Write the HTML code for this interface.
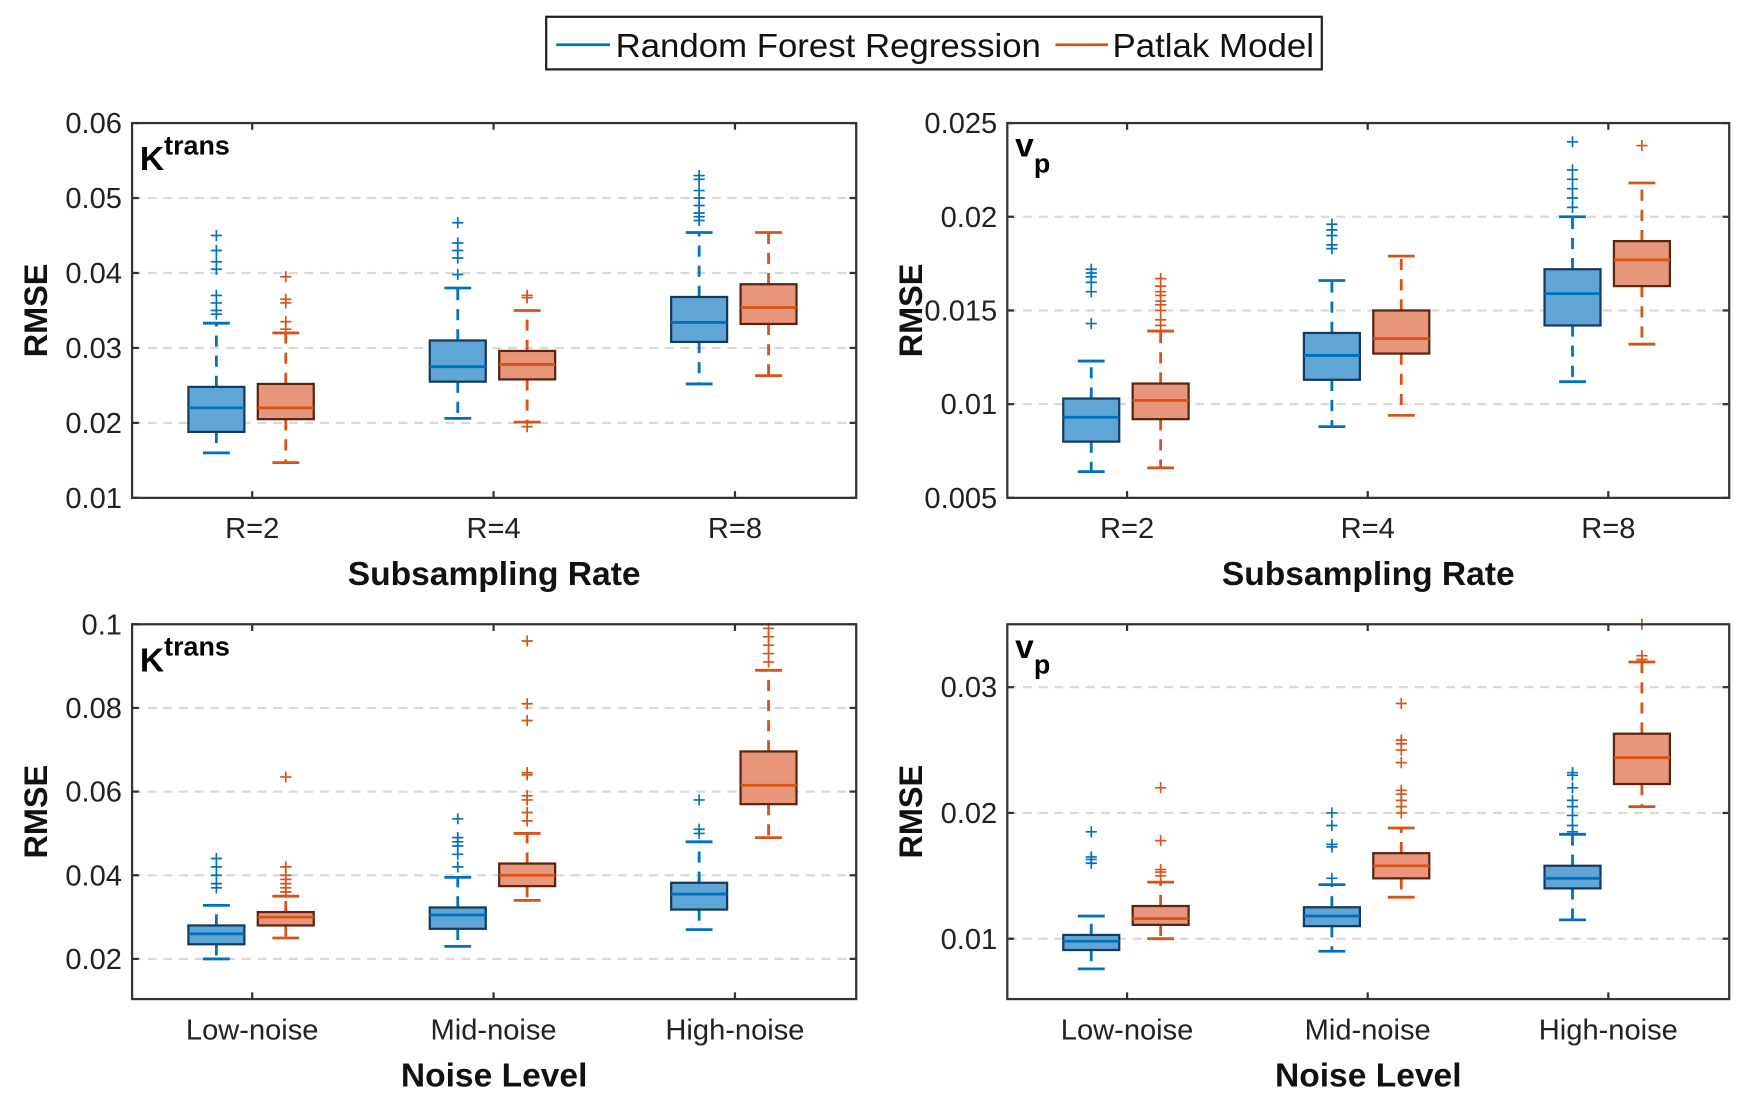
<!DOCTYPE html>
<html><head><meta charset="utf-8"><style>
html,body{margin:0;padding:0;background:#fff}
svg{display:block;font-family:"Liberation Sans",sans-serif}
</style></head><body>
<svg id="fig" xmlns="http://www.w3.org/2000/svg" width="1746" height="1102" viewBox="0 0 1560 985" preserveAspectRatio="none">
<g>
<rect x="488" y="15" width="693" height="47" fill="#fff" stroke="#222" stroke-width="2"/>
<line x1="497" y1="40" x2="545" y2="40" stroke="#0072BD" stroke-width="2.5"/>
<text x="550" y="51" font-size="30" textLength="380" lengthAdjust="spacingAndGlyphs" fill="#111">Random Forest Regression</text>
<line x1="943" y1="40" x2="990" y2="40" stroke="#D95319" stroke-width="2.5"/>
<text x="994" y="51" font-size="30" textLength="180" lengthAdjust="spacingAndGlyphs" fill="#111">Patlak Model</text>
</g>
</svg>
<script>
// ---- Data: [q1, median, q3, whiskerLow, whiskerHigh] ----
const catsSub = ["R=2","R=4","R=8"];
const catsNoise = ["Low-noise","Mid-noise","High-noise"];
const ktSubTicks = [0.01,0.02,0.03,0.04,0.05,0.06];
const vpSubTicks = [0.005,0.01,0.015,0.02,0.025];
const ktNoiseTicks = [0.02,0.04,0.06,0.08,0.1];
const vpNoiseTicks = [0.01,0.02,0.03];
const ktSubRF = [[0.0188,0.022,0.0248,0.016,0.0333],[0.0255,0.0275,0.031,0.0206,0.038],[0.0308,0.0334,0.0368,0.0252,0.0454]];
const ktSubPK = [[0.0205,0.022,0.0252,0.0147,0.032],[0.0258,0.0278,0.0296,0.0201,0.035],[0.0332,0.0354,0.0385,0.0263,0.0454]];
const ktSubRFOut = [[0.0345,0.035,0.036,0.037,0.0405,0.0415,0.043,0.045],[0.0398,0.042,0.043,0.044,0.0467],[0.047,0.0475,0.048,0.049,0.05,0.051,0.0525,0.053]];
const ktSubPKOut = [[0.0325,0.0335,0.036,0.0365,0.0395],[0.0195,0.0367,0.037],[]];
const vpSubRF = [[0.008,0.0093,0.0103,0.0064,0.0123],[0.0113,0.0126,0.0138,0.0088,0.0166],[0.0142,0.0159,0.0172,0.0112,0.02]];
const vpSubPK = [[0.0092,0.0102,0.0111,0.0066,0.0139],[0.0127,0.0135,0.015,0.0094,0.0179],[0.0163,0.0177,0.0187,0.0132,0.0218]];
const vpSubRFOut = [[0.0143,0.016,0.0165,0.0168,0.017,0.0172],[0.0183,0.0185,0.019,0.0193,0.0196],[0.0205,0.021,0.0215,0.022,0.0225,0.024]];
const vpSubPKOut = [[0.0142,0.0145,0.015,0.0153,0.0155,0.0158,0.016,0.0163,0.0167],[],[0.0238]];
const ktNoiseRF = [[0.0235,0.026,0.028,0.02,0.0328],[0.0272,0.0305,0.0323,0.023,0.0395],[0.0318,0.0355,0.0382,0.027,0.048]];
const ktNoisePK = [[0.028,0.030,0.0312,0.025,0.035],[0.0374,0.040,0.0428,0.034,0.050],[0.057,0.0615,0.0696,0.049,0.089]];
const ktNoiseRFOut = [[0.037,0.038,0.04,0.042,0.044],[0.042,0.045,0.047,0.048,0.049,0.0535],[0.05,0.051,0.058]];
const ktNoisePKOut = [[0.036,0.037,0.038,0.039,0.04,0.042,0.0635],[0.053,0.055,0.058,0.059,0.064,0.0645,0.077,0.081,0.096],[0.091,0.093,0.095,0.097,0.099]];
const vpNoiseRF = [[0.0091,0.0098,0.0103,0.0076,0.0118],[0.011,0.0118,0.0125,0.009,0.0143],[0.014,0.0148,0.0158,0.0115,0.0183]];
const vpNoisePK = [[0.0111,0.0116,0.0126,0.010,0.0145],[0.0148,0.0158,0.0168,0.0133,0.0188],[0.0223,0.0244,0.0263,0.0205,0.032]];
const vpNoiseRFOut = [[0.016,0.0163,0.0165,0.0185],[0.0148,0.0173,0.0175,0.019,0.02],[0.0185,0.019,0.0198,0.0205,0.021,0.022,0.023,0.0232]];
const vpNoisePKOut = [[0.015,0.0153,0.0155,0.0178,0.022],[0.02,0.0205,0.021,0.0215,0.0218,0.024,0.025,0.0255,0.0258,0.0287],[0.0322,0.0325,0.035]];

const NS="http://www.w3.org/2000/svg";
const svg=document.getElementById('fig');
function mk(tag,attrs,parent){const e=document.createElementNS(NS,tag);for(const k in attrs)e.setAttribute(k,attrs[k]);(parent||svg).appendChild(e);return e;}

function panel(o){
  const g=mk('g',{});
  
  
  const {x0,x1,y0,y1,ymin,ymax}=o;
  const Y=v=>y1-(v-ymin)/(ymax-ymin)*(y1-y0);
  const step=(x1-x0)/3;
  const X=i=>x0+step*(i+0.5)-0.5;
  o.ticks.forEach(t=>{
    const y=Y(t);
    if(Math.abs(y-y0)>2&&Math.abs(y-y1)>2){
      const gl=mk('line',{x1:x0,x2:x1,y1:y,y2:y,stroke:'#d9d9d9','stroke-width':2,'stroke-dasharray':'8,6'},g);
      
      
    }
    mk('line',{x1:x0,x2:x0+6,y1:y,y2:y,stroke:'#333','stroke-width':2},g);
    mk('line',{x1:x1-6,x2:x1,y1:y,y2:y,stroke:'#333','stroke-width':2},g);
    const tl=mk('text',{x:x0-9,y:y+9,'font-size':26,'text-anchor':'end',fill:'#222'},g);
    tl.textContent=String(t);
    
    
  });
  o.cats.forEach((c,i)=>{
    const x=X(i);
    mk('line',{x1:x,x2:x,y1:y1,y2:y1-6,stroke:'#333','stroke-width':2},g);
    mk('line',{x1:x,x2:x,y1:y0,y2:y0+6,stroke:'#333','stroke-width':2},g);
    const t=mk('text',{x:x,y:y1+36,'font-size':26,'text-anchor':'middle',fill:'#222'},g);
    t.textContent=c;
    
    
  });
  const series=[{d:o.rf,out:o.rfOut,dx:-32,fill:'#5fa6d6',edge:'#143a5e',line:'#0072BD',name:'rf'},
                {d:o.pk,out:o.pkOut,dx:30,fill:'#e8967a',edge:'#5a2410',line:'#D95319',name:'patlak'}];
  series.forEach(s=>{
    s.d.forEach((b,i)=>{
      const cx=X(i)+s.dx, w=50;
      const bg=mk('g',{},g);
      
      
      mk('line',{x1:cx,x2:cx,y1:Y(b[2]),y2:Y(b[4]),stroke:s.line,'stroke-width':2.5,'stroke-dasharray':'10,8'},bg);
      mk('line',{x1:cx,x2:cx,y1:Y(b[0]),y2:Y(b[3]),stroke:s.line,'stroke-width':2.5,'stroke-dasharray':'10,8'},bg);
      mk('line',{x1:cx-12,x2:cx+12,y1:Y(b[4]),y2:Y(b[4]),stroke:s.line,'stroke-width':2.5},bg);
      mk('line',{x1:cx-12,x2:cx+12,y1:Y(b[3]),y2:Y(b[3]),stroke:s.line,'stroke-width':2.5},bg);
      mk('rect',{x:cx-w/2,y:Y(b[2]),width:w,height:Y(b[0])-Y(b[2]),fill:s.fill,stroke:s.edge,'stroke-width':2},bg);
      mk('line',{x1:cx-w/2,x2:cx+w/2,y1:Y(b[1]),y2:Y(b[1]),stroke:s.line,'stroke-width':2.5},bg);
      s.out[i].forEach(v=>{
        const y=Y(v);
        const p=mk('path',{d:`M${cx-5},${y}H${cx+5}M${cx},${y-5}V${y+5}`,stroke:s.line,'stroke-width':1.5,fill:'none'},bg);
        
        
      });
    });
  });
  const fr=mk('rect',{x:x0,y:y0,width:x1-x0,height:y1-y0,fill:'none',stroke:'#333','stroke-width':2},g);
  
  
  const ttl=mk('text',{x:x0+7,y:y0+42,'font-size':30,'font-weight':'bold',fill:'#000'},g);
  
  
  if(o.kt){ttl.innerHTML='K<tspan dy="-14" font-size="24">trans</tspan>';}
  else{ttl.setAttribute('y',y0+30);ttl.innerHTML='v<tspan dy="14" font-size="24">p</tspan>';}
  const yl=mk('text',{x:0,y:0,'font-size':29,'font-weight':'bold','text-anchor':'middle',transform:`translate(${x0-76},${(y0+y1)/2}) rotate(-90)`,fill:'#111'},g);
  yl.textContent='RMSE';
  
  
  const xl=mk('text',{x:(x0+x1)/2,y:y1+78,'font-size':30,'font-weight':'bold','text-anchor':'middle',fill:'#111'},g);
  xl.textContent=o.xlabel;
  
  
}
panel({name:'ktrans-subsampling-panel',x0:118,x1:765,y0:110,y1:445,ymin:0.01,ymax:0.06,ticks:ktSubTicks,cats:catsSub,rf:ktSubRF,pk:ktSubPK,rfOut:ktSubRFOut,pkOut:ktSubPKOut,kt:true,xlabel:'Subsampling Rate'});
panel({name:'vp-subsampling-panel',x0:900,x1:1545,y0:110,y1:445,ymin:0.005,ymax:0.025,ticks:vpSubTicks,cats:catsSub,rf:vpSubRF,pk:vpSubPK,rfOut:vpSubRFOut,pkOut:vpSubPKOut,kt:false,xlabel:'Subsampling Rate'});
panel({name:'ktrans-noise-panel',x0:118,x1:765,y0:558,y1:893,ymin:0.0104,ymax:0.1,ticks:ktNoiseTicks,cats:catsNoise,rf:ktNoiseRF,pk:ktNoisePK,rfOut:ktNoiseRFOut,pkOut:ktNoisePKOut,kt:true,xlabel:'Noise Level'});
panel({name:'vp-noise-panel',x0:900,x1:1545,y0:558,y1:893,ymin:0.0052,ymax:0.035,ticks:vpNoiseTicks,cats:catsNoise,rf:vpNoiseRF,pk:vpNoisePK,rfOut:vpNoiseRFOut,pkOut:vpNoisePKOut,kt:false,xlabel:'Noise Level'});
</script>
</body></html>
